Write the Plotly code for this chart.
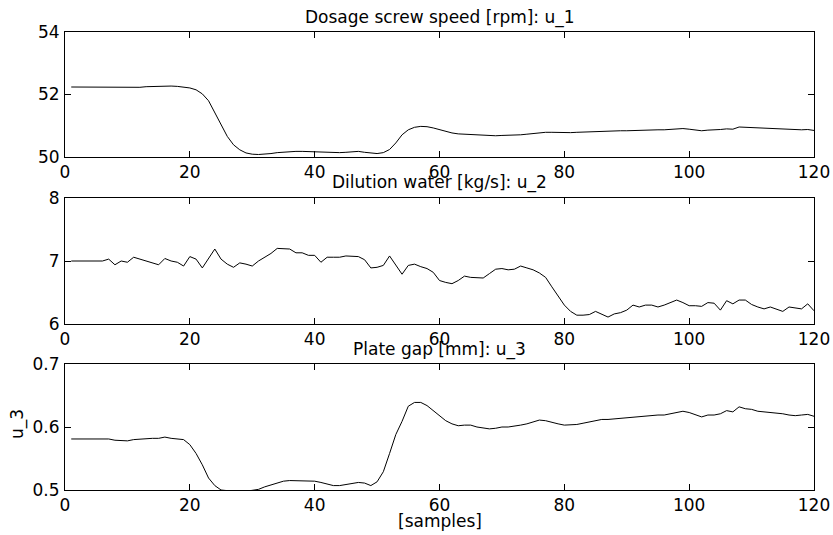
import plotly.graph_objects as go

samples = list(range(1, 121))

u1_dosage_screw_speed = [
    52.24, 52.24, 52.24, 52.24, 52.24, 52.24, 52.24, 52.23, 52.22, 52.22,
    52.22, 52.23, 52.25, 52.26, 52.27, 52.27, 52.27, 52.26, 52.24, 52.21,
    52.15, 52.02, 51.80, 51.42, 50.99, 50.66, 50.39, 50.23, 50.13, 50.09,
    50.08, 50.09, 50.11, 50.14, 50.16, 50.17, 50.18, 50.18, 50.17, 50.17,
    50.16, 50.14, 50.13, 50.14, 50.15, 50.16, 50.18, 50.15, 50.12, 50.11,
    50.14, 50.24, 50.45, 50.71, 50.87, 50.95, 50.98, 50.97, 50.93, 50.87,
    50.82, 50.77, 50.74, 50.73, 50.73, 50.72, 50.70, 50.68, 50.68, 50.69,
    50.69, 50.70, 50.71, 50.73, 50.75, 50.78, 50.79, 50.79, 50.78, 50.78,
    50.78, 50.79, 50.80, 50.81, 50.82, 50.83, 50.83, 50.83, 50.84, 50.84,
    50.85, 50.85, 50.86, 50.86, 50.87, 50.87, 50.88, 50.90, 50.91, 50.89,
    50.86, 50.84, 50.86, 50.86, 50.88, 50.90, 50.89, 50.96, 50.95, 50.95,
    50.93, 50.91, 50.91, 50.90, 50.89, 50.88, 50.88, 50.87, 50.88, 50.85,
]

u2_dilution_water = [
    7.00, 7.00, 7.00, 7.00, 7.00, 7.00, 7.03, 6.94, 7.00, 6.98,
    7.06, 7.03, 6.99, 6.97, 6.94, 7.04, 7.00, 6.98, 6.92, 7.07,
    7.03, 6.89, 7.04, 7.19, 7.03, 6.95, 6.90, 6.97, 6.95, 6.92,
    7.00, 7.06, 7.12, 7.20, 7.20, 7.19, 7.13, 7.13, 7.09, 7.09,
    6.98, 7.06, 7.06, 7.06, 7.08, 7.08, 7.07, 7.02, 6.89, 6.90,
    6.93, 7.08, 6.94, 6.79, 6.93, 6.95, 6.91, 6.88, 6.82, 6.69,
    6.66, 6.64, 6.69, 6.76, 6.74, 6.73, 6.73, 6.80, 6.87, 6.88,
    6.86, 6.87, 6.92, 6.89, 6.86, 6.81, 6.74, 6.59, 6.44, 6.30,
    6.20, 6.14, 6.14, 6.15, 6.20, 6.16, 6.11, 6.16, 6.18, 6.22,
    6.30, 6.27, 6.30, 6.30, 6.27, 6.30, 6.34, 6.38, 6.34, 6.29,
    6.29, 6.28, 6.34, 6.33, 6.22, 6.37, 6.32, 6.38, 6.38, 6.31,
    6.27, 6.24, 6.27, 6.24, 6.20, 6.27, 6.26, 6.24, 6.32, 6.21,
]

u3_plate_gap = [
    0.581, 0.581, 0.581, 0.581, 0.581, 0.581, 0.581, 0.579, 0.579, 0.578,
    0.580, 0.581, 0.582, 0.582, 0.582, 0.584, 0.582, 0.581, 0.580, 0.572,
    0.558, 0.540, 0.519, 0.507, 0.500, 0.499, 0.498, 0.498, 0.498, 0.499,
    0.501, 0.505, 0.508, 0.512, 0.514, 0.515, 0.515, 0.515, 0.514, 0.514,
    0.512, 0.510, 0.507, 0.507, 0.509, 0.510, 0.512, 0.511, 0.507, 0.513,
    0.529, 0.558, 0.588, 0.609, 0.633, 0.639, 0.639, 0.634, 0.626, 0.618,
    0.610, 0.605, 0.602, 0.603, 0.603, 0.600, 0.598, 0.597, 0.598, 0.600,
    0.600, 0.601, 0.603, 0.605, 0.608, 0.611, 0.610, 0.607, 0.605, 0.603,
    0.603, 0.604, 0.606, 0.608, 0.610, 0.612, 0.612, 0.613, 0.613, 0.615,
    0.616, 0.617, 0.618, 0.618, 0.619, 0.619, 0.621, 0.624, 0.625, 0.623,
    0.619, 0.616, 0.619, 0.619, 0.621, 0.626, 0.624, 0.632, 0.629, 0.628,
    0.625, 0.624, 0.624, 0.622, 0.621, 0.619, 0.618, 0.619, 0.620, 0.617,
]

titles = ["Dosage screw speed [rpm]: u_1", "Dilution water [kg/s]: u_2", "Plate gap [mm]: u_3"]
x_ticks = [0, 20, 40, 60, 80, 100, 120]
y_ticks = [[50, 52, 54], [6, 7, 8], [0.5, 0.6, 0.7]]
y_tick_text = [["50", "52", "54"], ["6", "7", "8"], ["0.5", "0.6", "0.7"]]
y_ranges = [[50, 54], [6, 8], [0.5, 0.7]]
x_label = "[samples]"
y_label3 = "u_3"

FONT = "DejaVu Sans, Verdana, sans-serif"
FS = 17
W, H = 833, 535
ML, MR, MT, MB = 65, 19, 32, 45
PH = H - MT - MB
PW = W - ML - MR

# panel boxes in page pixels (top, bottom)
boxes = [(32, 157), (198, 324), (364, 490)]

def py2paper(py):
    return 1 - (py - MT) / PH

def px2paper(px):
    return (px - ML) / PW

fig = go.Figure()
series = [u1_dosage_screw_speed, u2_dilution_water, u3_plate_gap]
for i, ys in enumerate(series):
    suffix = "" if i == 0 else str(i + 1)
    fig.add_trace(go.Scatter(
        x=samples, y=ys, mode="lines",
        line=dict(color="black", width=1),
        xaxis="x" + suffix, yaxis="y" + suffix,
        showlegend=False, hoverinfo="skip",
    ))

axis_common = dict(
    showline=True, linecolor="black", linewidth=1, mirror="allticks",
    ticks="inside", ticklen=6, tickwidth=1, tickcolor="black",
    showgrid=False, zeroline=False, automargin=False,
    tickfont=dict(family=FONT, size=FS, color="black"),
)

layout = dict(
    width=W, height=H, autosize=False,
    margin=dict(l=ML, r=MR, t=MT, b=MB, pad=0, autoexpand=False),
    paper_bgcolor="white", plot_bgcolor="white",
    showlegend=False,
)
annotations = []
for i in range(3):
    suffix = "" if i == 0 else str(i + 1)
    top, bottom = boxes[i]
    layout["xaxis" + suffix] = dict(
        axis_common, domain=[0, 1], range=[0, 120],
        tickvals=x_ticks, ticktext=[str(t) for t in x_ticks],
        anchor="y" + suffix, ticklabelstandoff=0,
    )
    layout["yaxis" + suffix] = dict(
        axis_common, domain=[py2paper(bottom), py2paper(top)], range=y_ranges[i],
        tickvals=y_ticks[i], ticktext=y_tick_text[i],
        anchor="x" + suffix, ticklabelstandoff=1,
    )
    annotations.append(dict(
        text=titles[i], x=0.5, xref="paper", y=py2paper(top - 15), yref="paper",
        showarrow=False, xanchor="center", yanchor="middle",
        font=dict(family=FONT, size=FS, color="black"),
    ))

annotations.append(dict(
    text=x_label, x=0.5, xref="paper", y=py2paper(521), yref="paper",
    showarrow=False, xanchor="center", yanchor="middle",
    font=dict(family=FONT, size=FS, color="black"),
))
annotations.append(dict(
    text=y_label3, x=px2paper(17), xref="paper",
    y=py2paper(424), yref="paper", textangle=-90,
    showarrow=False, xanchor="center", yanchor="middle",
    font=dict(family=FONT, size=FS, color="black"),
))
layout["annotations"] = annotations

fig.update_layout(**layout)
fig.write_html(
    "out.html",
    config={"displayModeBar": False},
    post_script="document.body.style.margin='0';document.body.style.overflow='hidden';",
)
